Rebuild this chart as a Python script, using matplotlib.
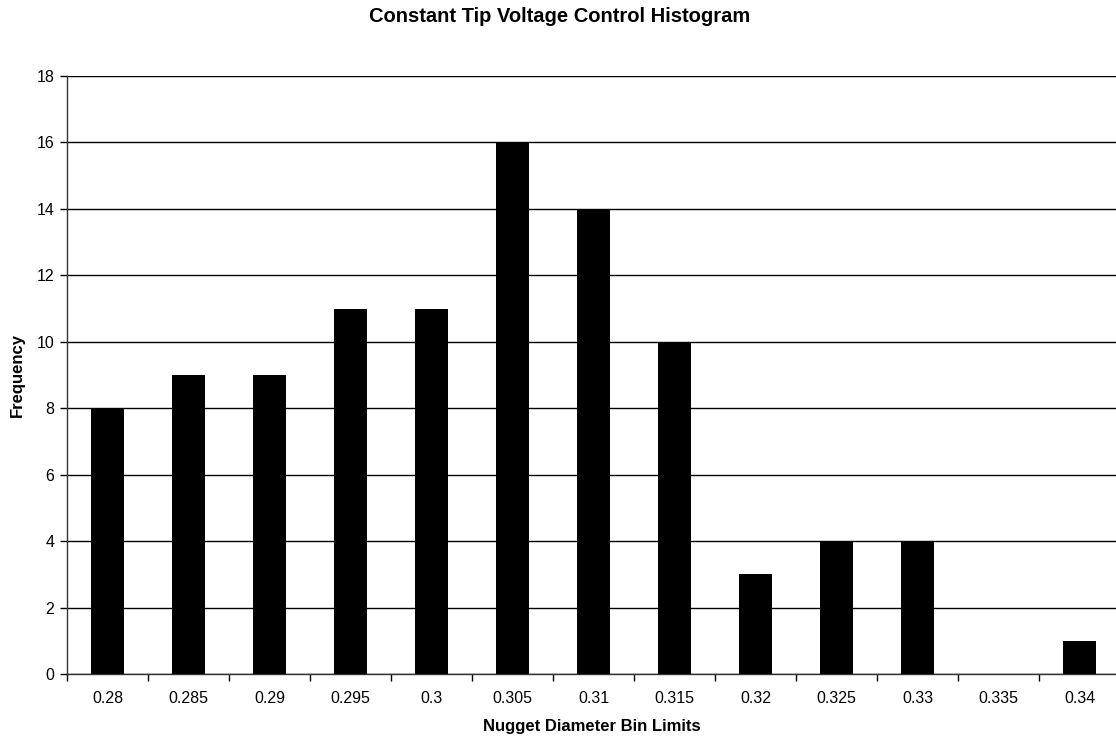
import matplotlib
matplotlib.use("Agg")
import matplotlib.pyplot as plt
import numpy as np

plt.rcParams['font.family'] = ['Liberation Sans', 'DejaVu Sans']

bins = ["0.28", "0.285", "0.29", "0.295", "0.3", "0.305", "0.31", "0.315",
        "0.32", "0.325", "0.33", "0.335", "0.34"]
freq = [8, 9, 9, 11, 11, 16, 14, 10, 3, 4, 4, 0, 1]
yticks = [0, 2, 4, 6, 8, 10, 12, 14, 16, 18]

fig = plt.figure(figsize=(11.16, 7.4), dpi=100)
ax = fig.add_axes([67/1116, 66/740, 1053/1116, 598/740])

x = np.arange(len(bins))
ax.bar(x, freq, width=0.4, color='black', zorder=3)

ax.set_xlim(-0.5, len(bins) - 0.5)
ax.set_ylim(0, 18)
ax.set_yticks(yticks)
ax.set_yticklabels([str(v) for v in yticks], fontsize=11.5)
ax.set_xticks(x)
ax.set_xticklabels(bins, fontsize=11.5)
ax.tick_params(axis='x', length=0, pad=12)
ax.set_xticks(np.arange(len(bins) + 1) - 0.5, minor=True)
ax.tick_params(axis='x', which='minor', length=5, width=1, color='black', direction='out')
ax.tick_params(axis='y', length=5, width=1, direction='out', pad=4)

ax.grid(axis='y', color='black', linewidth=1, zorder=0)
for s in ['top', 'right']:
    ax.spines[s].set_visible(False)
ax.spines['left'].set_linewidth(1)
ax.spines['bottom'].set_linewidth(1)
ax.spines['left'].set_color('#333333')
ax.spines['bottom'].set_color('#333333')
ax.axhline(18, color='#999999', linewidth=1.5, zorder=1)

ax.set_xlabel("Nugget Diameter Bin Limits", fontsize=12, fontweight='bold')
ax.xaxis.set_label_coords((592 - 67)/1053, -(719-674)/598)
ax.set_ylabel("Frequency", fontsize=12, fontweight='bold')
ax.yaxis.set_label_coords(-(67-25)/1053, 0.5)
fig.text(560/1116, 1 - 16/740, "Constant Tip Voltage Control Histogram",
         ha='center', va='center', fontsize=14.5, fontweight='bold')

fig.savefig("out.png", dpi=100)
